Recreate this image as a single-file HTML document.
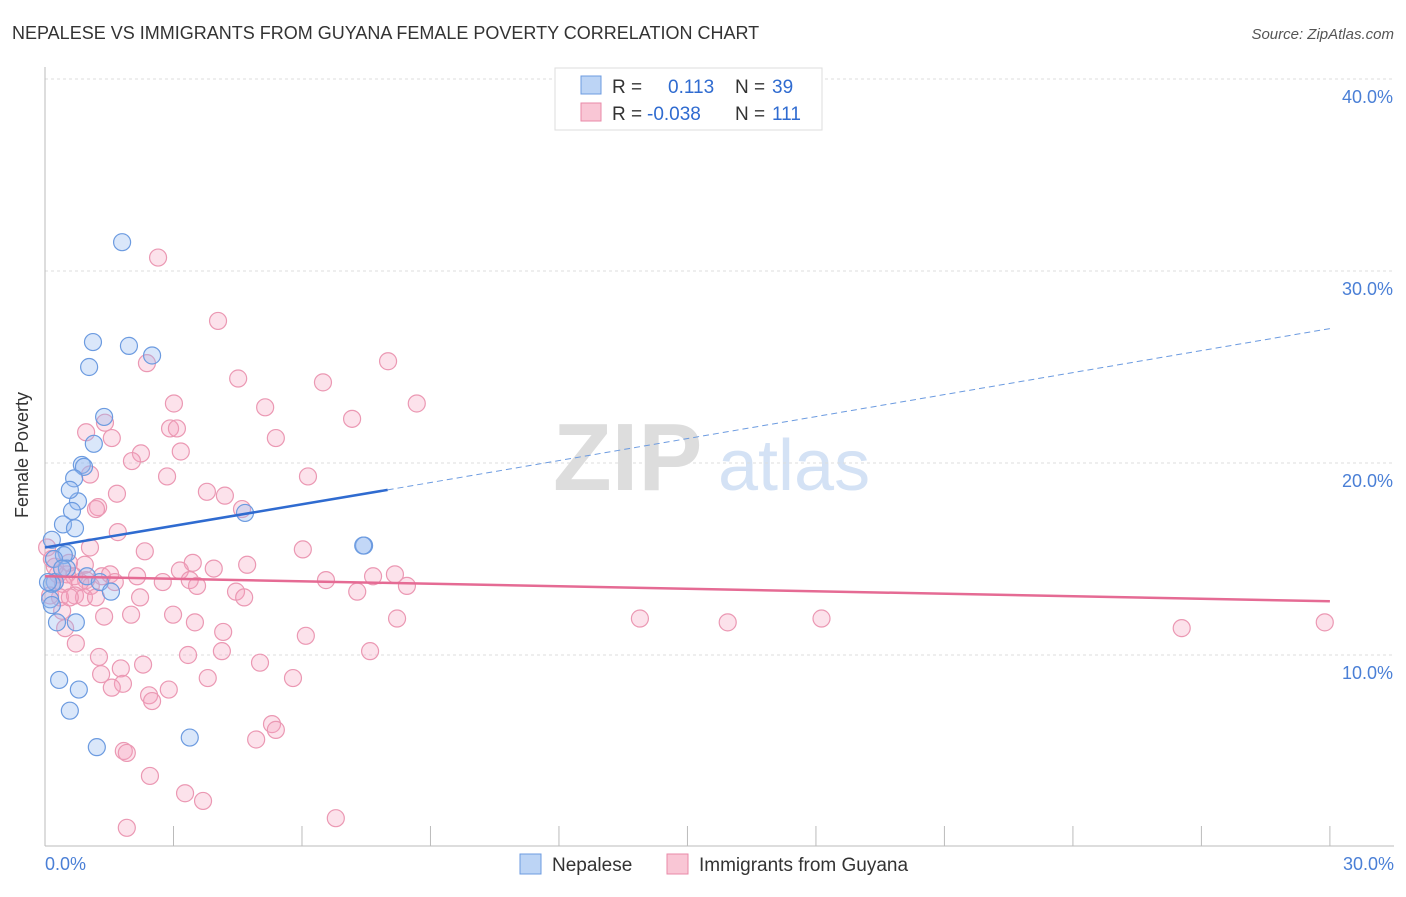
<!DOCTYPE html>
<html><head><meta charset="utf-8"><style>
body{margin:0;background:#fff;font-family:"Liberation Sans",sans-serif}
svg text{font-family:"Liberation Sans",sans-serif}
</style></head><body>
<svg id="chart" width="1406" height="892">
<text x="12" y="39" font-size="18" fill="#333">NEPALESE VS IMMIGRANTS FROM GUYANA FEMALE POVERTY CORRELATION CHART</text>
<text x="1394" y="39" font-size="15" fill="#555" text-anchor="end" font-style="italic">Source: ZipAtlas.com</text>
<g>
<text x="553" y="490" font-size="96" fill="#ddd" font-family="Liberation Serif" font-weight="bold">ZIP</text>
<text x="718" y="490" font-size="72" fill="#d4e2f5">atlas</text>
</g>
<g id="grid"></g>
<g id="axes"></g>
<g id="points"></g>
<g id="trends"></g>
<text x="28" y="455" font-size="18" fill="#333" transform="rotate(-90 28 455)" text-anchor="middle">Female Poverty</text>
<g>
<rect x="555" y="68" width="267" height="62" fill="#fff" stroke="#ddd"/>
<rect x="581" y="76" width="20" height="18" fill="#bcd4f5" stroke="#6c9be0"/>
<rect x="581" y="103" width="20" height="18" fill="#f9c6d5" stroke="#e98aa8"/>
<text x="612" y="93" font-size="19" fill="#333">R =</text><text x="668" y="93" font-size="19" fill="#2f6bd0">0.113</text>
<text x="735" y="93" font-size="19" fill="#333">N =</text><text x="772" y="93" font-size="19" fill="#2f6bd0">39</text>
<text x="612" y="120" font-size="19" fill="#333">R =</text><text x="647" y="120" font-size="19" fill="#2f6bd0">-0.038</text>
<text x="735" y="120" font-size="19" fill="#333">N =</text><text x="772" y="120" font-size="19" fill="#2f6bd0">111</text>
</g>
<g>
<rect x="520" y="854" width="21" height="20" fill="#bcd4f5" stroke="#6c9be0"/>
<text x="552" y="871" font-size="19" fill="#333">Nepalese</text>
<rect x="667" y="854" width="21" height="20" fill="#f9c6d5" stroke="#e98aa8"/>
<text x="699" y="871" font-size="19" fill="#333">Immigrants from Guyana</text>
</g>
</svg>
<script>
const yTicks=[10,20,30,40];
const yTickLabels=["10.0%","20.0%","30.0%","40.0%"];
const xTickLabels=["0.0%","30.0%"];
const blueX=[1.8,1.12,1.96,2.5,1.03,1.38,1.14,0.86,0.91,0.68,0.77,0.58,0.63,0.42,0.7,0.16,4.67,7.45,7.43,0.51,0.44,0.21,0.51,0.23,0.98,1.28,0.16,1.54,0.12,0.16,0.28,0.72,0.33,0.79,0.58,1.21,3.38,0.07,0.4];
const blueY=[31.5,26.3,26.1,25.6,25.0,22.4,21.0,19.9,19.8,19.2,18.0,18.6,17.5,16.8,16.6,16.0,17.4,15.7,15.7,15.3,15.2,15.0,14.5,13.8,14.1,13.8,13.7,13.3,12.9,12.6,11.7,11.7,8.7,8.2,7.1,5.2,5.7,13.8,14.5];
const pinkX=[2.64,4.04,8.01,2.38,4.51,6.49,3.01,8.68,5.14,7.17,1.4,2.92,3.08,0.96,1.56,5.39,3.17,2.24,2.03,1.05,2.85,6.14,3.78,1.68,4.2,1.24,1.19,4.6,1.7,1.05,2.33,6.02,0.16,0.56,3.45,4.72,2.15,3.15,3.94,0.3,0.51,0.68,0.96,1.33,1.52,2.75,3.38,3.55,6.56,7.66,8.17,0.23,0.42,0.82,1.07,4.46,4.65,7.29,8.45,0.35,0.12,0.7,0.91,2.01,2.99,1.38,0.4,3.5,8.22,13.89,15.94,18.13,26.54,29.88,0.47,4.16,6.09,0.72,3.34,4.13,7.59,1.26,2.29,1.77,5.02,1.31,3.8,5.79,1.82,1.56,2.89,2.43,2.5,5.3,5.39,4.93,1.84,1.91,2.45,3.27,3.69,6.79,1.91,0.05,0.23,0.58,1.63,1.19,0.93,2.22];
const pinkY=[30.7,27.4,25.3,25.2,24.4,24.2,23.1,23.1,22.9,22.3,22.1,21.8,21.8,21.6,21.3,21.3,20.6,20.5,20.1,19.4,19.3,19.3,18.5,18.4,18.3,17.7,17.6,17.6,16.4,15.6,15.4,15.5,15.0,14.8,14.8,14.7,14.1,14.4,14.5,14.2,14.2,14.1,13.9,14.1,14.2,13.8,13.9,13.6,13.9,14.1,14.2,13.8,13.7,13.8,13.6,13.3,13.0,13.3,13.6,13.0,13.1,13.1,13.0,12.1,12.1,12.0,12.3,11.7,11.9,11.9,11.7,11.9,11.4,11.7,11.4,11.2,11.0,10.6,10.0,10.2,10.2,9.9,9.5,9.3,9.6,9.0,8.8,8.8,8.5,8.3,8.2,7.9,7.6,6.4,6.1,5.6,5.0,4.9,3.7,2.8,2.4,1.5,1.0,15.6,14.6,13.0,13.8,13.0,14.7,13.0];
const blueTrend=[[0,15.6],[8,18.6]], blueDash=[[8,18.6],[30,27.0]];
const pinkTrend=[[0,14.1],[30,12.8]];
const X=v=>45+v*42.83, Y=v=>847-v*19.2;
const NS="http://www.w3.org/2000/svg";
function mk(t,a,parent){const e=document.createElementNS(NS,t);for(const k in a)e.setAttribute(k,a[k]);document.getElementById(parent).appendChild(e);return e;}
yTicks.forEach((t,i)=>{
 const l=mk('line',{x1:45,x2:1394,y1:Y(t),y2:Y(t),stroke:'#ddd','stroke-dasharray':'3,3'},'grid');
 
 
 const tx=mk('text',{x:1393,y:Y(t)+24,'font-size':18,fill:'#4a7fd6','text-anchor':'end'},'grid');
 tx.textContent=yTickLabels[i];
 
 
});
let ax=mk('line',{x1:45,x2:45,y1:67,y2:846,stroke:'#bbb'},'axes');


ax=mk('line',{x1:45,x2:1394,y1:846,y2:846,stroke:'#bbb'},'axes');


for(let i=0;i<=10;i++){
 const t=mk('line',{x1:X(i*3),x2:X(i*3),y1:826,y2:846,stroke:'#bbb'},'axes');
 
 
}
[[0,'start',45],[1,'end',1394]].forEach(([i,a,x])=>{
 const t=mk('text',{x:x,y:870,'font-size':18,fill:'#4a7fd6','text-anchor':a},'axes');
 t.textContent=xTickLabels[i];
 
 
});
pinkX.forEach((x,i)=>{
 const c=mk('circle',{cx:X(x),cy:Y(pinkY[i]),r:8.5,fill:'rgba(245,160,190,0.3)',stroke:'#eb98b3','stroke-width':1.2},'points');
 
 
});
blueX.forEach((x,i)=>{
 const c=mk('circle',{cx:X(x),cy:Y(blueY[i]),r:8.5,fill:'rgba(150,185,240,0.35)',stroke:'#6c9be0','stroke-width':1.2},'points');
 
 
});
let tl=mk('line',{x1:X(blueTrend[0][0]),y1:Y(blueTrend[0][1]),x2:X(blueTrend[1][0]),y2:Y(blueTrend[1][1]),stroke:'#2f6bd0','stroke-width':2.5},'trends');


tl=mk('line',{x1:X(blueDash[0][0]),y1:Y(blueDash[0][1]),x2:X(blueDash[1][0]),y2:Y(blueDash[1][1]),stroke:'#6c9be0','stroke-width':1,'stroke-dasharray':'6,4'},'trends');


tl=mk('line',{x1:X(pinkTrend[0][0]),y1:Y(pinkTrend[0][1]),x2:X(pinkTrend[1][0]),y2:Y(pinkTrend[1][1]),stroke:'#e56b94','stroke-width':2.5},'trends');


</script>
</body></html>
